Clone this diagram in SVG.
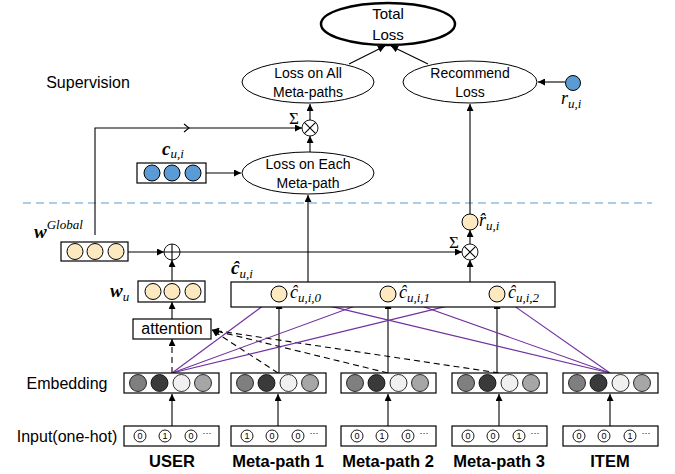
<svg xmlns="http://www.w3.org/2000/svg" width="675" height="474" viewBox="0 0 675 474">
<style>
.t{font-family:"Liberation Sans",Arial,sans-serif;font-size:14px;fill:#000;text-anchor:middle}
.b{font-family:"Liberation Sans",Arial,sans-serif;font-size:16.5px;font-weight:bold;text-anchor:middle}
.m{font-family:"Liberation Serif","Times New Roman",serif;font-style:italic;font-size:18px}
.mb{font-family:"Liberation Serif","Times New Roman",serif;font-style:italic;font-weight:bold;font-size:19px}
.s{font-size:13px;font-weight:normal}
.box{fill:#fff;stroke:#000;stroke-width:1.2}
.el{fill:#fff;stroke:#000;stroke-width:1}
.y{fill:#fde9c0;stroke:#000;stroke-width:1}
.bl{fill:#5b9bd5;stroke:#000;stroke-width:1}
.ln{fill:none;stroke:#000;stroke-width:1.1}
.ds{fill:none;stroke:#000;stroke-width:1.1;stroke-dasharray:6,4}
.pp{fill:none;stroke:#7030a0;stroke-width:1.1}
.oc{fill:#fff;stroke:#000;stroke-width:0.9}
.d{font-family:"Liberation Sans",Arial,sans-serif;font-size:9px;text-anchor:middle}
</style>
<defs>
<marker id="a" viewBox="0 0 10 10" refX="10" refY="5" markerWidth="7" markerHeight="7" orient="auto" markerUnits="userSpaceOnUse"><path d="M0,0 L10,5 L0,10 z" fill="#000"/></marker>
<marker id="p" viewBox="0 0 10 10" refX="10" refY="5" markerWidth="8" markerHeight="8" orient="auto" markerUnits="userSpaceOnUse"><path d="M0,0 L10,5 L0,10 z" fill="#7030a0"/></marker>
<g id="emb">
<rect class="box" x="0" y="0" width="95" height="20"/>
<circle cx="14" cy="10" r="8.5" fill="#7f7f7f" stroke="#000" stroke-width="0.8"/>
<circle cx="35.5" cy="10" r="8.5" fill="#3a3a3a" stroke="#000" stroke-width="0.8"/>
<circle cx="57.5" cy="10" r="8.5" fill="#f0f0f0" stroke="#000" stroke-width="0.8"/>
<circle cx="79" cy="10" r="8.5" fill="#a6a6a6" stroke="#000" stroke-width="0.8"/>
</g>
</defs>

<!-- separator -->
<line x1="23" y1="203" x2="652" y2="203" stroke="#5b9bd5" stroke-width="1.1" stroke-dasharray="8,5"/>

<text class="t" x="88" y="88" style="font-size:16px">Supervision</text>

<!-- connectors -->
<g id="connectors">
<line class="ln" x1="349" y1="64" x2="385" y2="46" marker-end="url(#a)"/>
<line class="ln" x1="428" y1="64" x2="391" y2="46" marker-end="url(#a)"/>
<line class="ln" x1="565" y1="82" x2="538" y2="82" marker-end="url(#a)"/>
<line class="ln" x1="310" y1="120" x2="310" y2="104" marker-end="url(#a)"/>
<line class="ln" x1="310" y1="152" x2="310" y2="136" marker-end="url(#a)"/>
<polyline class="ln" points="95,235 95,128 302,128" marker-end="url(#a)"/>
<polyline class="ln" points="184,124 189,128 184,132"/>
<line class="ln" x1="206" y1="173" x2="241" y2="173" marker-end="url(#a)"/>
<line class="ln" x1="308" y1="282" x2="308" y2="195" marker-end="url(#a)"/>
<line class="ln" x1="470" y1="214" x2="470" y2="104" marker-end="url(#a)"/>
<line class="ln" x1="470" y1="282" x2="470" y2="260" marker-end="url(#a)"/>
<line class="ln" x1="470" y1="244" x2="470" y2="230" marker-end="url(#a)"/>
<line class="ln" x1="128" y1="252" x2="164" y2="252" marker-end="url(#a)"/>
<line class="ln" x1="180" y1="252" x2="462" y2="252" marker-end="url(#a)"/>
<line class="ln" x1="172" y1="281" x2="172" y2="260" marker-end="url(#a)"/>
<line class="ln" x1="172" y1="319" x2="172" y2="302" marker-end="url(#a)"/>
<line class="ds" x1="172" y1="373" x2="172" y2="339" marker-end="url(#a)"/>
<line class="ds" x1="278" y1="373" x2="212" y2="330" marker-end="url(#a)"/>
<line class="ds" x1="388" y1="373" x2="212" y2="330" marker-end="url(#a)"/>
<line class="ds" x1="499" y1="373" x2="212" y2="330" marker-end="url(#a)"/>
<line class="ln" x1="279" y1="373" x2="279" y2="302" marker-end="url(#a)"/>
<line class="ln" x1="388" y1="373" x2="388" y2="302" marker-end="url(#a)"/>
<line class="ln" x1="497" y1="373" x2="497" y2="302" marker-end="url(#a)"/>
<line class="pp" x1="172" y1="373" x2="272.6" y2="298.8" marker-end="url(#p)"/>
<line class="pp" x1="172" y1="373" x2="380.5" y2="296.7" marker-end="url(#p)"/>
<line class="pp" x1="172" y1="373" x2="489.2" y2="295.9" marker-end="url(#p)"/>
<line class="pp" x1="610" y1="373" x2="286.8" y2="295.9" marker-end="url(#p)"/>
<line class="pp" x1="610" y1="373" x2="395.5" y2="296.7" marker-end="url(#p)"/>
<line class="pp" x1="610" y1="373" x2="503.6" y2="298.6" marker-end="url(#p)"/>
<line class="ln" x1="172" y1="426" x2="172" y2="394" marker-end="url(#a)"/>
<line class="ln" x1="278" y1="426" x2="278" y2="394" marker-end="url(#a)"/>
<line class="ln" x1="388" y1="426" x2="388" y2="394" marker-end="url(#a)"/>
<line class="ln" x1="499" y1="426" x2="499" y2="394" marker-end="url(#a)"/>
<line class="ln" x1="610" y1="426" x2="610" y2="394" marker-end="url(#a)"/>
</g>

<g id="total-loss">
<ellipse cx="388" cy="24" rx="67" ry="21" fill="#fff" stroke="#000" stroke-width="2.5"/>
<text class="t" x="388" y="19" style="font-size:15px">Total</text>
<text class="t" x="388" y="40" style="font-size:15px">Loss</text>
</g>
<g id="loss-all">
<ellipse class="el" cx="308" cy="82" rx="66" ry="21"/>
<text class="t" x="308" y="78">Loss on All</text>
<text class="t" x="308" y="97">Meta-paths</text>
</g>
<g id="recommend-loss">
<ellipse class="el" cx="470" cy="82" rx="67" ry="21"/>
<text class="t" x="470" y="78">Recommend</text>
<text class="t" x="470" y="97">Loss</text>
</g>
<g id="r-ui">
<circle class="bl" cx="573" cy="83" r="7.5"/>
<text class="m" x="561" y="104">r<tspan class="s" dy="4">u,i</tspan></text>
</g>
<g id="otimes-top">
<circle class="oc" cx="310" cy="128" r="8"/>
<path class="ln" d="M304.3,122.3 L315.7,133.7 M315.7,122.3 L304.3,133.7" stroke-width="0.9"/>
<text x="294" y="124" style="font-family:'Liberation Serif',serif;font-size:17px;text-anchor:middle">Σ</text>
</g>
<g id="c-ui">
<text class="mb" x="162" y="155">c<tspan class="s" dy="3">u,i</tspan></text>
<rect class="box" x="137" y="163" width="69" height="20"/>
<circle class="bl" cx="152" cy="173" r="8"/>
<circle class="bl" cx="172" cy="173" r="8"/>
<circle class="bl" cx="193" cy="173" r="8"/>
</g>
<g id="loss-each">
<ellipse class="el" cx="308" cy="173" rx="66" ry="21"/>
<text class="t" x="308" y="169">Loss on Each</text>
<text class="t" x="308" y="188">Meta-path</text>
</g>
<g id="w-global">
<text class="mb" x="34" y="238">w<tspan class="s" dy="-9">Global</tspan></text>
<rect class="box" x="61" y="242" width="67" height="19"/>
<circle class="y" cx="75" cy="251.5" r="8"/>
<circle class="y" cx="95" cy="251.5" r="8"/>
<circle class="y" cx="116" cy="251.5" r="8"/>
</g>
<g id="oplus">
<circle class="oc" cx="172" cy="252" r="8"/>
<path class="ln" d="M164,252 H180 M172,244 V260" stroke-width="0.9"/>
</g>
<g id="w-u">
<text class="mb" x="110" y="297">w<tspan class="s" dy="4">u</tspan></text>
<rect class="box" x="138" y="281" width="67" height="21"/>
<circle class="y" cx="153" cy="291.5" r="8"/>
<circle class="y" cx="172" cy="291.5" r="8"/>
<circle class="y" cx="193" cy="291.5" r="8"/>
</g>
<g id="attention">
<rect class="box" x="133" y="319" width="78" height="20"/>
<text class="t" x="172" y="334" style="font-size:16px">attention</text>
</g>
<g id="c-hat">
<text class="mb" x="231" y="274">ĉ<tspan class="s" dy="4">u,i</tspan></text>
<rect class="box" x="231" y="282" width="324" height="25"/>
<circle class="y" cx="279" cy="294" r="8"/>
<circle class="y" cx="388" cy="294" r="8"/>
<circle class="y" cx="497" cy="294" r="8"/>
<text class="m" x="290" y="298">ĉ<tspan class="s" dy="4">u,i,0</tspan></text>
<text class="m" x="399" y="298">ĉ<tspan class="s" dy="4">u,i,1</tspan></text>
<text class="m" x="508" y="298">ĉ<tspan class="s" dy="4">u,i,2</tspan></text>
</g>
<g id="otimes-right">
<circle class="oc" cx="470" cy="252" r="8"/>
<path class="ln" d="M464.3,246.3 L475.7,257.7 M475.7,246.3 L464.3,257.7" stroke-width="0.9"/>
<text x="454" y="248" style="font-family:'Liberation Serif',serif;font-size:17px;text-anchor:middle">Σ</text>
</g>
<g id="r-hat">
<circle class="y" cx="470" cy="222" r="8"/>
<text class="m" x="479" y="226">r̂<tspan class="s" dy="4">u,i</tspan></text>
</g>

<text class="t" x="67" y="389" style="font-size:16px">Embedding</text>
<text class="t" x="67" y="442" style="font-size:16px">Input(one-hot)</text>

<g id="user">
<use href="#emb" x="124" y="373"/>
<rect class="box" x="124" y="426" width="95" height="20"/>
<circle class="oc" cx="140" cy="436" r="6"/><text class="d" x="140" y="439">0</text>
<circle class="oc" cx="165" cy="436" r="6"/><text class="d" x="165" y="439">1</text>
<circle class="oc" cx="191" cy="436" r="6"/><text class="d" x="191" y="439">0</text>
<text class="d" x="207" y="436">···</text>
<text class="b" x="172" y="467">USER</text>
</g>
<g id="meta-path-1">
<use href="#emb" x="231" y="373"/>
<rect class="box" x="231" y="426" width="95" height="20"/>
<circle class="oc" cx="247" cy="436" r="6"/><text class="d" x="247" y="439">1</text>
<circle class="oc" cx="272" cy="436" r="6"/><text class="d" x="272" y="439">0</text>
<circle class="oc" cx="298" cy="436" r="6"/><text class="d" x="298" y="439">0</text>
<text class="d" x="314" y="436">···</text>
<text class="b" x="278" y="467">Meta-path 1</text>
</g>
<g id="meta-path-2">
<use href="#emb" x="341" y="373"/>
<rect class="box" x="341" y="426" width="95" height="20"/>
<circle class="oc" cx="357" cy="436" r="6"/><text class="d" x="357" y="439">0</text>
<circle class="oc" cx="382" cy="436" r="6"/><text class="d" x="382" y="439">1</text>
<circle class="oc" cx="408" cy="436" r="6"/><text class="d" x="408" y="439">0</text>
<text class="d" x="424" y="436">···</text>
<text class="b" x="388" y="467">Meta-path 2</text>
</g>
<g id="meta-path-3">
<use href="#emb" x="452" y="373"/>
<rect class="box" x="452" y="426" width="95" height="20"/>
<circle class="oc" cx="468" cy="436" r="6"/><text class="d" x="468" y="439">0</text>
<circle class="oc" cx="493" cy="436" r="6"/><text class="d" x="493" y="439">0</text>
<circle class="oc" cx="519" cy="436" r="6"/><text class="d" x="519" y="439">1</text>
<text class="d" x="535" y="436">···</text>
<text class="b" x="499" y="467">Meta-path 3</text>
</g>
<g id="item">
<use href="#emb" x="563" y="373"/>
<rect class="box" x="563" y="426" width="95" height="20"/>
<circle class="oc" cx="579" cy="436" r="6"/><text class="d" x="579" y="439">0</text>
<circle class="oc" cx="604" cy="436" r="6"/><text class="d" x="604" y="439">0</text>
<circle class="oc" cx="630" cy="436" r="6"/><text class="d" x="630" y="439">1</text>
<text class="d" x="646" y="436">···</text>
<text class="b" x="610" y="467">ITEM</text>
</g>
</svg>
